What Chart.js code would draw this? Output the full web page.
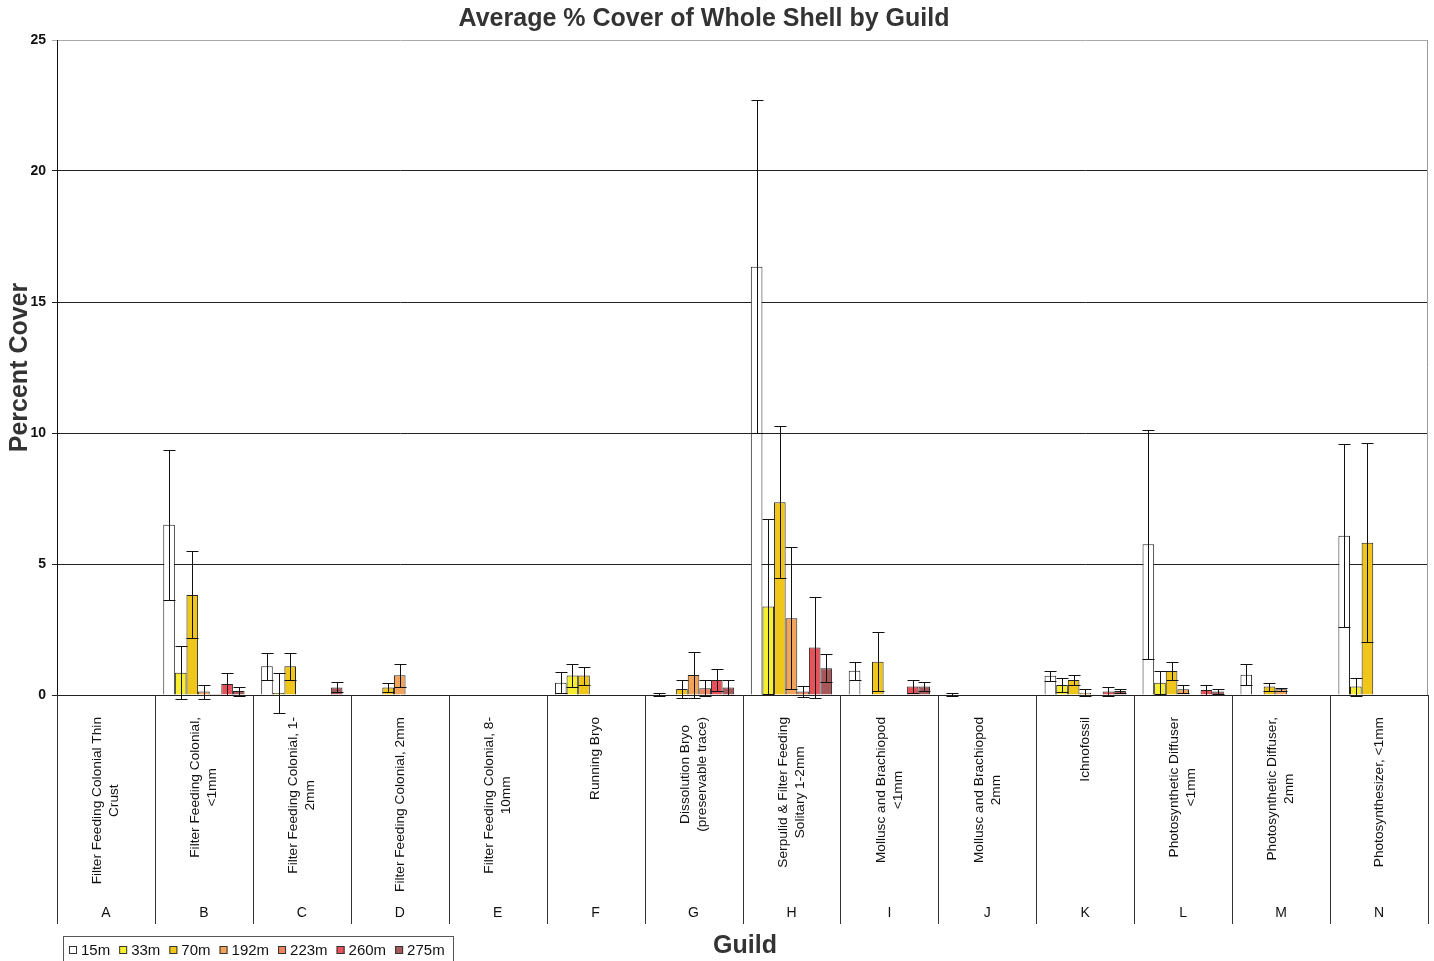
<!DOCTYPE html>
<html>
<head>
<meta charset="utf-8">
<script src="https://cdn.jsdelivr.net/npm/chart.js@4.4.1/dist/chart.umd.min.js"></script>
<style>
    html, body { margin: 0; padding: 0; background: #fff; }
    #wrap { width: 1434px; height: 961px; }
</style>
</head>
<body>
<div id="wrap"><canvas id="chartGuild" width="1434" height="961"></canvas></div>
<script>
const FONT = '"Liberation Sans", Arial, sans-serif';

const guildNames = [
    ['Filter Feeding Colonial Thin', 'Crust'],
    ['Filter Feeding Colonial,', '<1mm'],
    ['Filter Feeding Colonial, 1-', '2mm'],
    ['Filter Feeding Colonial, 2mm'],
    ['Filter Feeding Colonial, 8-', '10mm'],
    ['Running Bryo'],
    ['Dissolution Bryo', '(preservable trace)'],
    ['Serpulid & Filter Feeding', 'Solitary 1-2mm'],
    ['Mollusc and Brachiopod', '<1mm'],
    ['Mollusc and Brachiopod', '2mm'],
    ['Ichnofossil'],
    ['Photosynthetic Diffuser', '<1mm'],
    ['Photosynthetic Diffuser,', '2mm'],
    ['Photosynthesizer, <1mm']
];
const guildLetters = ['A', 'B', 'C', 'D', 'E', 'F', 'G', 'H', 'I', 'J', 'K', 'L', 'M', 'N'];

const depths = ['15m', '33m', '70m', '192m', '223m', '260m', '275m'];
const depthColors = ['#ffffff', '#f7ee30', '#f0c61a', '#f2a55a', '#ee8460', '#e8505a', '#a8585a'];

//             A  B     C     D     E  F     G     H      I     J     K     L     M     N
const d15  = [0, 6.5,  1.1,  0,    0, 0.47, 0.02, 16.35, 0.93, 0.02, 0.73, 5.75, 0.77, 6.08];
const e15  = [0, 2.87, 0.52, 0,    0, 0.4,  0.05, 6.35,  0.34, 0.05, 0.19, 4.37, 0.4,  3.5];
const d33  = [0, 0.85, 0.08, 0,    0, 0.74, 0,    3.38,  0,    0,    0.38, 0.47, 0,    0.32];
const e33  = [0, 1.02, 0.76, 0,    0, 0.43, 0,    3.33,  0,    0,    0.26, 0.45, 0,    0.34];
const d70  = [0, 3.82, 1.1,  0.29, 0, 0.74, 0.23, 7.36,  1.27, 0,    0.57, 0.92, 0.32, 5.81];
const e70  = [0, 1.66, 0.52, 0.18, 0, 0.34, 0.34, 2.9,   1.12, 0,    0.18, 0.34, 0.15, 3.8];
const d192 = [0, 0.13, 0,    0.75, 0, 0,    0.76, 2.93,  0,    0,    0.09, 0.22, 0.22, 0];
const e192 = [0, 0.27, 0,    0.43, 0, 0,    0.87, 2.7,   0,    0,    0.13, 0.16, 0.05, 0];
const d223 = [0, 0.04, 0,    0,    0, 0,    0.26, 0.13,  0,    0,    0,    0,    0,    0];
const e223 = [0, 0,    0,    0,    0, 0,    0.31, 0.21,  0,    0,    0,    0,    0,    0];
const d260 = [0, 0.42, 0,    0,    0, 0,    0.57, 1.81,  0.32, 0,    0.13, 0.19, 0,    0];
const e260 = [0, 0.43, 0,    0,    0, 0,    0.42, 1.92,  0.25, 0,    0.16, 0.19, 0,    0];
const d275 = [0, 0.15, 0.29, 0,    0, 0,    0.29, 1.02,  0.32, 0,    0.15, 0.13, 0,    0];
const e275 = [0, 0.17, 0.19, 0,    0, 0,    0.28, 0.53,  0.17, 0,    0.08, 0.1,  0,    0];

const seriesValues = [d15, d33, d70, d192, d223, d260, d275];
const seriesErrors = [e15, e33, e70, e192, e223, e260, e275];

const yTicks = [0, 5, 10, 15, 20, 25];

// error bars, category boxes, titles and legend
const guildPlugin = {
    id: 'guildExtras',
    afterDatasetsDraw(chart) {
        const ctx = chart.ctx;
        const y = chart.scales.y;
        ctx.save();
        ctx.strokeStyle = '#111';
        ctx.lineWidth = 1;
        chart.data.datasets.forEach((ds, di) => {
            const meta = chart.getDatasetMeta(di);
            meta.data.forEach((bar, i) => {
                const e = seriesErrors[di][i];
                if (!e) return;
                const v = ds.data[i];
                const x = Math.round(bar.x) + 0.5;
                const yt = Math.round(y.getPixelForValue(v + e)) + 0.5;
                const yb = Math.round(y.getPixelForValue(v - e)) + 0.5;
                const cap = 6;
                ctx.beginPath();
                ctx.moveTo(x, yt); ctx.lineTo(x, yb);
                ctx.moveTo(x - cap, yt); ctx.lineTo(x + cap, yt);
                ctx.moveTo(x - cap, yb); ctx.lineTo(x + cap, yb);
                ctx.stroke();
            });
        });
        ctx.restore();
    },
    afterDraw(chart) {
        const ctx = chart.ctx;
        const area = chart.chartArea;
        const xs = chart.scales.x;
        const step = xs.getPixelForValue(1) - xs.getPixelForValue(0);
        ctx.save();

        // right frame line
        ctx.strokeStyle = '#999';
        ctx.lineWidth = 1;
        ctx.beginPath();
        ctx.moveTo(Math.round(area.right) - 0.5, area.top);
        ctx.lineTo(Math.round(area.right) - 0.5, area.bottom);
        ctx.stroke();

        // category dividers under the axis
        ctx.strokeStyle = '#333';
        ctx.beginPath();
        for (let i = 0; i <= guildNames.length; i++) {
            const bx = Math.round(xs.getPixelForValue(i) - step / 2) + 0.5;
            ctx.moveTo(bx, area.bottom);
            ctx.lineTo(bx, 924);
        }
        ctx.stroke();

        // rotated guild names
        ctx.fillStyle = '#111';
        ctx.font = '13.7px ' + FONT;
        ctx.textAlign = 'center';
        ctx.textBaseline = 'middle';
        const lineH = 17;
        guildNames.forEach((lines, i) => {
            const cx = xs.getPixelForValue(i);
            const w = Math.max(...lines.map(l => ctx.measureText(l).width));
            ctx.save();
            ctx.translate(cx, area.bottom + 22);
            ctx.rotate(-Math.PI / 2);
            lines.forEach((l, k) => {
                ctx.fillText(l, -w / 2, (k - (lines.length - 1) / 2) * lineH);
            });
            ctx.restore();
        });

        // letters
        ctx.font = '14px ' + FONT;
        guildLetters.forEach((l, i) => {
            ctx.fillText(l, xs.getPixelForValue(i), 913);
        });

        // chart title and x title
        ctx.fillStyle = '#333';
        ctx.font = 'bold 25px ' + FONT;
        ctx.fillText('Average % Cover of Whole Shell by Guild', 704, 19);
        ctx.fillText('Guild', 745, 946);

        // legend
        ctx.strokeStyle = '#555';
        ctx.strokeRect(63.5, 936.5, 390, 30);
        ctx.font = '15px ' + FONT;
        ctx.textAlign = 'left';
        let lx = 69;
        depths.forEach((d, i) => {
            ctx.fillStyle = depthColors[i];
            ctx.fillRect(lx, 946, 8, 8);
            ctx.strokeStyle = '#333';
            ctx.strokeRect(lx + 0.5, 946.5, 7, 7);
            ctx.fillStyle = '#111';
            ctx.fillText(d, lx + 12, 950.5);
            lx += 12 + ctx.measureText(d).width + 9;
        });
        ctx.restore();
    }
};

new Chart(document.getElementById('chartGuild'), {
    type: 'bar',
    data: {
        labels: guildLetters,
        datasets: depths.map((d, i) => ({
            label: d,
            data: seriesValues[i],
            backgroundColor: depthColors[i],
            borderColor: '#222',
            borderWidth: 1,
            categoryPercentage: 0.83,
            barPercentage: 1.0
        }))
    },
    options: {
        responsive: false,
        animation: false,
        layout: { padding: { top: 40, right: 6, bottom: 266, left: 0 } },
        plugins: {
            legend: { display: false },
            title: { display: false },
            tooltip: { enabled: false }
        },
        scales: {
            x: {
                display: false,
                offset: true
            },
            y: {
                min: 0, max: 25,
                afterFit: scale => { scale.width = 57; },
                afterBuildTicks: scale => { scale.ticks = yTicks.map(v => ({ value: v })); },
                ticks: {
                    color: '#111',
                    font: { family: FONT, size: 14, weight: 'bold' },
                    padding: 6
                },
                grid: {
                    color: ctx => ctx.tick && ctx.tick.value === 25 ? '#aaa' : '#222',
                    lineWidth: 1,
                    tickLength: 5
                },
                border: { display: true, color: '#111' },
                title: {
                    display: true,
                    text: 'Percent Cover',
                    color: '#333',
                    font: { family: FONT, size: 25, weight: 'bold' },
                    padding: { top: 5, bottom: 0 }
                }
            }
        }
    },
    plugins: [guildPlugin]
});
</script>
</body>
</html>
